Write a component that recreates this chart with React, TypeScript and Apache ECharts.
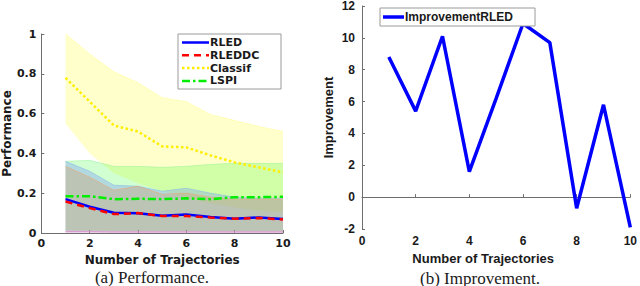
import React, { useEffect, useRef } from "react";
import * as echarts from "echarts";

const trajectories = [1, 2, 3, 4, 5, 6, 7, 8, 9, 10];

const rledMean = [0.17, 0.132, 0.102, 0.099, 0.087, 0.093, 0.08, 0.072, 0.078, 0.07];
const rledUpper = [0.36, 0.31, 0.24, 0.235, 0.21, 0.225, 0.2, 0.18, 0.175, 0.175];
const rledLower = [0.01, 0.01, 0.008, 0.008, 0.008, 0.008, 0.008, 0.008, 0.008, 0.008];

const rleddcMean = [0.158, 0.125, 0.095, 0.1, 0.085, 0.085, 0.078, 0.072, 0.075, 0.068];
const rleddcUpper = [0.335, 0.28, 0.215, 0.235, 0.195, 0.2, 0.18, 0.17, 0.17, 0.17];
const rleddcLower = [0.006, 0.006, 0.005, 0.005, 0.005, 0.005, 0.005, 0.005, 0.005, 0.005];

const classifMean = [0.78, 0.66, 0.54, 0.51, 0.435, 0.43, 0.39, 0.355, 0.33, 0.305];
const classifUpper = [1.0, 0.9, 0.81, 0.755, 0.68, 0.66, 0.595, 0.565, 0.535, 0.51];
const classifLower = [0.55, 0.4, 0.3, 0.25, 0.21, 0.18, 0.15, 0.13, 0.11, 0.105];

const lspiMean = [0.185, 0.185, 0.17, 0.172, 0.17, 0.174, 0.17, 0.18, 0.18, 0.182];
const lspiUpper = [0.36, 0.365, 0.335, 0.335, 0.33, 0.335, 0.345, 0.35, 0.35, 0.35];
const lspiLower = [0.012, 0.012, 0.01, 0.01, 0.01, 0.01, 0.01, 0.01, 0.01, 0.01];

const improvementRLED = [8.8, 5.4, 10.1, 1.6, 6.2, 10.9, 9.7, -0.7, 5.8, -1.9];

const xTicks = { min: 0, max: 10, interval: 2 };
const perfTicks = { min: 0, max: 1, interval: 0.2 };
const impTicks = { min: -2, max: 12, interval: 2 };

const pair = (ys: number[]) => trajectories.map((x, i) => [x, ys[i]]);

const LEFT_FONT = "DejaVu Sans";
const RIGHT_FONT = "Liberation Sans";

function band(id: string, lower: number[], upper: number[], fill: string, edge: string, lowEdge?: string) {
  return {
    type: "custom",
    id,
    xAxisIndex: 0,
    yAxisIndex: 0,
    silent: true,
    z: 1,
    data: [[trajectories[0], lower[0]]],
    encode: { x: 0, y: 1 },
    renderItem: (params: any, api: any) => {
      const top = trajectories.map((x, i) => api.coord([x, upper[i]]));
      const bot = trajectories.map((x, i) => api.coord([x, lower[i]]));
      const children: any[] = [
        {
          type: "polygon",
          shape: { points: [...top, ...bot.slice().reverse()] },
          style: { fill, stroke: "none" },
        },
        {
          type: "polyline",
          shape: { points: top },
          style: { fill: "none", stroke: edge, lineWidth: 0.8 },
        },
      ];
      if (lowEdge) {
        children.push({
          type: "polyline",
          shape: { points: bot },
          style: { fill: "none", stroke: lowEdge, lineWidth: 1.5 },
        });
      }
      return { type: "group", children };
    },
  };
}

const legendLeft = [
  { name: "RLED", color: "#0000ff", dash: null as number[] | null },
  { name: "RLEDDC", color: "#ff0000", dash: [7, 5] },
  { name: "Classif", color: "#ffee00", dash: [2.5, 2.5] },
  { name: "LSPI", color: "#00ee00", dash: [8, 3, 2.5, 3] },
];

export default function App() {
  const ref = useRef<HTMLDivElement>(null);
  useEffect(() => {
    if (!ref.current) return;
    const chart = echarts.init(ref.current, undefined, { renderer: "svg" });

    const axisLine = { show: true, lineStyle: { color: "#6e6e6e", width: 1 } };
    const axisTick = { show: true, inside: true, length: 3, lineStyle: { color: "#6e6e6e" } };

    const lineSeries = [
      {
        type: "line", name: "Classif", data: pair(classifMean), symbol: "none",
        lineStyle: { color: "#ffee00", width: 2.5, type: [2.5, 2.5] }, z: 3,
      },
      {
        type: "line", name: "LSPI", data: pair(lspiMean), symbol: "none",
        lineStyle: { color: "#00ee00", width: 2.5, type: [8, 3, 2.5, 3] }, z: 3,
      },
      {
        type: "line", name: "RLED", data: pair(rledMean), symbol: "none",
        lineStyle: { color: "#0000ff", width: 2.5 }, z: 3,
      },
      {
        type: "line", name: "RLEDDC", data: pair(rleddcMean), symbol: "none",
        lineStyle: { color: "#ff0000", width: 2.5, type: [7, 5] }, z: 3,
      },
    ].map((s) => ({ ...s, xAxisIndex: 0, yAxisIndex: 0 }));

    const legendGraphics: any[] = [
      {
        type: "rect",
        shape: { x: 178, y: 34, width: 103, height: 55 },
        style: { fill: "#ffffff", stroke: "#9a9a9a", lineWidth: 1 },
        z: 10,
      },
    ];
    legendLeft.forEach((it, i) => {
      const y = 42.5 + i * 12.8;
      legendGraphics.push({
        type: "line",
        shape: { x1: 182, y1: y, x2: 209, y2: y },
        style: { stroke: it.color, lineWidth: 2.5, lineDash: it.dash || undefined },
        z: 11,
      });
      legendGraphics.push({
        type: "text",
        x: 210,
        y: y,
        style: {
          text: it.name, fill: "#1a1a1a", font: `bold 11px "${LEFT_FONT}"`,
          verticalAlign: "middle",
        },
        z: 11,
      });
    });

    legendGraphics.push(
      {
        type: "rect",
        shape: { x: 380, y: 8, width: 155, height: 18 },
        style: { fill: "#ffffff", stroke: "#9a9a9a", lineWidth: 1 },
        z: 10,
      },
      {
        type: "line",
        shape: { x1: 383, y1: 17, x2: 404, y2: 17 },
        style: { stroke: "#0000ff", lineWidth: 3.5 },
        z: 11,
      },
      {
        type: "text",
        x: 405,
        y: 17,
        style: {
          text: "ImprovementRLED", fill: "#1a1a1a", font: `bold 12px "${RIGHT_FONT}"`,
          verticalAlign: "middle",
        },
        z: 11,
      },
      {
        type: "text",
        x: 152,
        y: 277,
        style: {
          text: "(a) Performance.", fill: "#1a1a1a", font: `17px "Liberation Serif"`,
          align: "center", verticalAlign: "middle",
        },
      },
      {
        type: "text",
        x: 480,
        y: 278,
        style: {
          text: "(b) Improvement.", fill: "#1a1a1a", font: `17px "Liberation Serif"`,
          align: "center", verticalAlign: "middle",
        },
      }
    );

    chart.setOption({
      animation: false,
      backgroundColor: "#ffffff",
      grid: [
        { left: 39, right: 357, top: 34, bottom: 53 },
        { left: 362, right: 5, top: 5, bottom: 57 },
      ],
      xAxis: [
        {
          gridIndex: 0, type: "value", ...xTicks,
          name: "Number of Trajectories", nameLocation: "middle", nameGap: 19,
          nameTextStyle: { fontFamily: LEFT_FONT, fontWeight: "bold", fontSize: 12, color: "#1a1a1a" },
          axisLine, axisTick, splitLine: { show: false },
          axisLabel: { fontFamily: LEFT_FONT, fontWeight: "bold", fontSize: 11, color: "#1a1a1a", margin: 5 },
        },
        {
          gridIndex: 1, type: "value", ...xTicks,
          name: "Number of Trajectories", nameLocation: "middle", nameGap: 22,
          nameTextStyle: { fontFamily: RIGHT_FONT, fontWeight: "bold", fontSize: 13, color: "#1a1a1a", padding: [0, 26, 0, 0] },
          axisLine, axisTick, splitLine: { show: false },
          axisLabel: { fontFamily: RIGHT_FONT, fontWeight: "bold", fontSize: 12, color: "#1a1a1a", margin: 6 },
        },
      ],
      yAxis: [
        {
          gridIndex: 0, type: "value", ...perfTicks,
          name: "Performance", nameLocation: "middle", nameGap: 27,
          nameTextStyle: { fontFamily: LEFT_FONT, fontWeight: "bold", fontSize: 12, color: "#1a1a1a" },
          axisLine, axisTick, splitLine: { show: false },
          axisLabel: {
            fontFamily: LEFT_FONT, fontWeight: "bold", fontSize: 11, color: "#1a1a1a", margin: 5,
            formatter: (v: number) => String(Math.round(v * 10) / 10),
          },
        },
        {
          gridIndex: 1, type: "value", ...impTicks,
          name: "Improvement", nameLocation: "middle", nameGap: 27,
          nameTextStyle: { fontFamily: RIGHT_FONT, fontWeight: "bold", fontSize: 13, color: "#1a1a1a" },
          axisLine, axisTick, splitLine: { show: false },
          axisLabel: { fontFamily: RIGHT_FONT, fontWeight: "bold", fontSize: 12, color: "#1a1a1a", margin: 7 },
        },
      ],
      series: [
        band("classif", classifLower, classifUpper, "rgba(255,255,0,0.2)", "rgba(255,255,120,0.5)"),
        band("lspi", lspiLower, lspiUpper, "rgba(0,255,0,0.18)", "rgba(150,240,150,0.6)"),
        band("rled", rledLower, rledUpper, "rgba(105,129,255,0.3)", "rgba(140,190,230,0.8)"),
        band("rleddc", rleddcLower, rleddcUpper, "rgba(212,148,88,0.3)", "rgba(230,170,125,0.8)", "rgba(215,150,210,0.9)"),
        ...lineSeries,
        {
          type: "line", name: "ImprovementRLED", xAxisIndex: 1, yAxisIndex: 1,
          data: pair(improvementRLED), symbol: "none",
          lineStyle: { color: "#0000ff", width: 3.5 },
        },
      ],
      graphic: legendGraphics,
    });
    return () => chart.dispose();
  }, []);
  return (
    <div
      ref={ref}
      style={{ position: "fixed", left: 0, top: 0, width: 640, height: 286, background: "#fff" }}
    />
  );
}
